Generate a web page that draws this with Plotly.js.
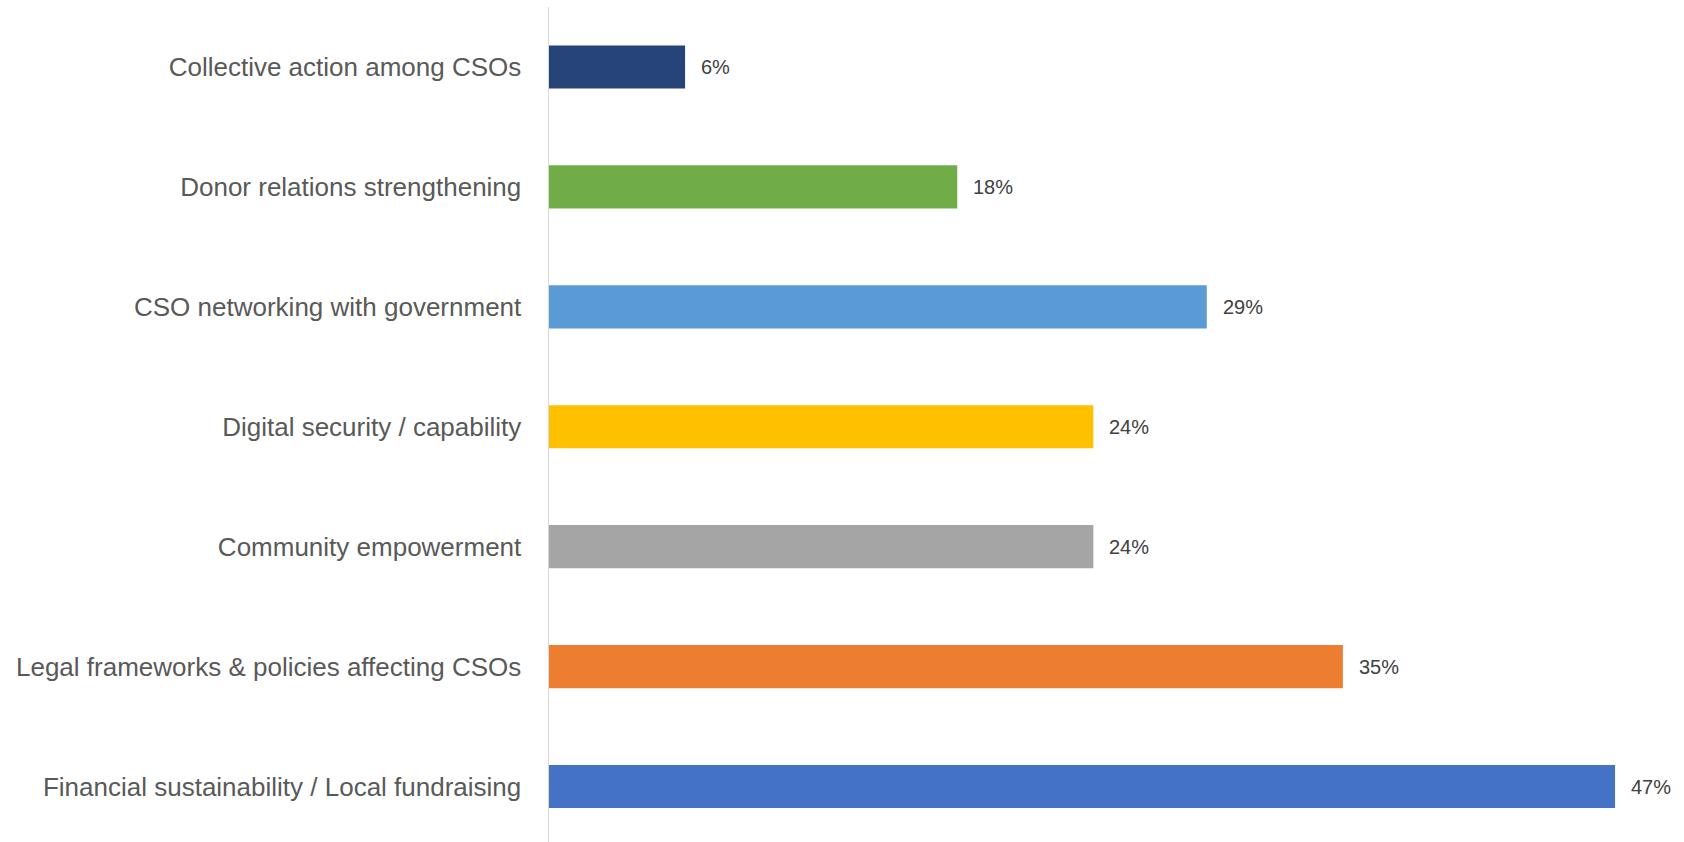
<!DOCTYPE html>
<html>
<head>
<meta charset="utf-8">
<script src="https://cdn.plot.ly/plotly-3.0.1.min.js"></script>
<style>html,body{margin:0;padding:0;background:#fff;}#chart{width:1684px;height:842px;}</style>
</head>
<body>
<div id="chart"></div>
<script>
// Categories listed bottom to top
const categories = [
  "Financial sustainability / Local fundraising",
  "Legal frameworks & policies affecting CSOs",
  "Community empowerment",
  "Digital security / capability",
  "CSO networking with government",
  "Donor relations strengthening",
  "Collective action among CSOs"
];
const values = [47, 35, 24, 24, 29, 18, 6];
const valueLabels = ["47%", "35%", "24%", "24%", "29%", "18%", "6%"];
const barColors = ["#4472C4", "#ED7D31", "#A5A5A5", "#FFC000", "#5B9BD5", "#70AD47", "#264478"];

const trace = {
  type: "bar",
  orientation: "h",
  y: categories,
  x: values,
  marker: { color: barColors },
  hoverinfo: "none"
};

const annotations = categories.map((c, i) => ({
  x: values[i],
  y: c,
  xref: "x",
  yref: "y",
  text: valueLabels[i],
  showarrow: false,
  xanchor: "left",
  yanchor: "middle",
  xshift: 14,
  font: { family: "Liberation Sans, Arial, sans-serif", size: 20, color: "#404040" }
}));

const layout = {
  width: 1684,
  height: 842,
  margin: { l: 549, r: 0, t: 7, b: 0, pad: 0 },
  paper_bgcolor: "#ffffff",
  plot_bgcolor: "#ffffff",
  showlegend: false,
  bargap: 0.64,
  xaxis: {
    range: [0, 50.04],
    showgrid: false,
    zeroline: false,
    showline: false,
    showticklabels: false,
    ticks: ""
  },
  yaxis: {
    type: "category",
    range: [-0.4625, 6.5],
    showgrid: false,
    zeroline: false,
    showline: true,
    linecolor: "#D9D9D9",
    linewidth: 1.5,
    ticks: "",
    ticklabelstandoff: 21,
    tickfont: { family: "Liberation Sans, Arial, sans-serif", size: 26, color: "#595959" }
  },
  annotations: annotations
};

Plotly.newPlot("chart", [trace], layout, { displayModeBar: false, staticPlot: true });
</script>
</body>
</html>
